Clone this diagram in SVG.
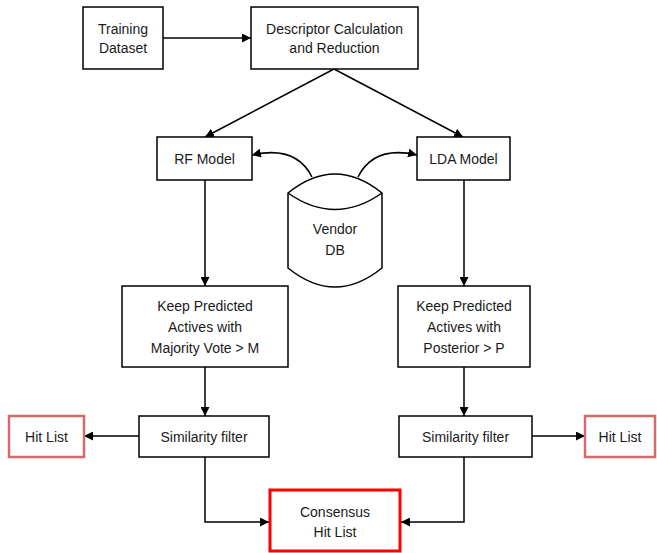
<svg xmlns="http://www.w3.org/2000/svg" width="657" height="553" viewBox="0 0 657 553">
<style>
.box{fill:#fff;stroke:#000;stroke-width:1.5}
.hit{fill:#fff;stroke:#d46a6a;stroke-width:2.5}
.cons{fill:#fff;stroke:#ff0000;stroke-width:3}
.lbl{font-family:"Liberation Sans",Arial,sans-serif;font-size:14px;fill:#1a1a1a;text-anchor:middle}
.c{fill:none;stroke:#000;stroke-width:1.5;marker-end:url(#ah)}
</style>
<defs>
<marker id="ah" viewBox="0 0 10 10" refX="10" refY="5" markerWidth="9" markerHeight="9" markerUnits="userSpaceOnUse" orient="auto">
<path d="M0,0 L10,5 L0,10 z" fill="#000"/>
</marker>
</defs>
<g id="connectors">
<path class="c" d="M163,38 L251,38"/>
<path class="c" d="M334,69 L205,137"/>
<path class="c" d="M334,69 L463,137"/>
<path class="c" d="M312,177 Q296,145 252,155"/>
<path class="c" d="M358,177 Q374,145 417,155"/>
<path class="c" d="M205,180 L205,286"/>
<path class="c" d="M464,180 L464,286"/>
<path class="c" d="M205,367 L205,416"/>
<path class="c" d="M464,367 L464,416"/>
<path class="c" d="M139,436 L84,436"/>
<path class="c" d="M532,436 L585,436"/>
<path class="c" d="M205,457 L205,522 L269,522"/>
<path class="c" d="M464,457 L464,522 L401,522"/>
</g>
<g id="training">
<rect class="box" x="83" y="7" width="80" height="62"/>
<text class="lbl" x="123" y="33.5">Training</text>
<text class="lbl" x="123" y="52.5">Dataset</text>
</g>
<g id="descriptor">
<rect class="box" x="251" y="7" width="167" height="62"/>
<text class="lbl" x="334.5" y="33.5">Descriptor Calculation</text>
<text class="lbl" x="334.5" y="52.5">and Reduction</text>
</g>
<g id="rf">
<rect class="box" x="157" y="137" width="95" height="43"/>
<text class="lbl" x="204.5" y="163.5">RF Model</text>
</g>
<g id="lda">
<rect class="box" x="417" y="137" width="93" height="43"/>
<text class="lbl" x="463.5" y="163.5">LDA Model</text>
</g>
<g id="vendor">
<path d="M288,193 Q335,155 382,193 L382,268 Q335,306 288,268 Z" fill="#fff" stroke="#000" stroke-width="1.5"/>
<path d="M288,193 Q335,226 382,193" fill="none" stroke="#000" stroke-width="1.5"/>
<text class="lbl" x="335" y="234">Vendor</text>
<text class="lbl" x="335" y="255">DB</text>
</g>
<g id="keep-rf">
<rect class="box" x="122" y="286" width="166" height="81"/>
<text class="lbl" x="205" y="311">Keep Predicted</text>
<text class="lbl" x="205" y="332">Actives with</text>
<text class="lbl" x="205" y="353">Majority Vote &gt; M</text>
</g>
<g id="keep-lda">
<rect class="box" x="398" y="286" width="132" height="81"/>
<text class="lbl" x="464" y="311">Keep Predicted</text>
<text class="lbl" x="464" y="332">Actives with</text>
<text class="lbl" x="464" y="353">Posterior &gt; P</text>
</g>
<g id="sim-left">
<rect class="box" x="139" y="416" width="130" height="41"/>
<text class="lbl" x="204" y="441.5">Similarity filter</text>
</g>
<g id="sim-right">
<rect class="box" x="399" y="416" width="133" height="41"/>
<text class="lbl" x="465.5" y="441.5">Similarity filter</text>
</g>
<g id="hit-left">
<rect class="hit" x="9" y="416" width="75" height="41"/>
<text class="lbl" x="46.5" y="441.5">Hit List</text>
</g>
<g id="hit-right">
<rect class="hit" x="585" y="416" width="70" height="41"/>
<text class="lbl" x="620" y="441.5">Hit List</text>
</g>
<g id="consensus">
<rect class="cons" x="270" y="490" width="130" height="61"/>
<text class="lbl" x="335" y="516.5">Consensus</text>
<text class="lbl" x="335" y="536.5">Hit List</text>
</g>
</svg>
